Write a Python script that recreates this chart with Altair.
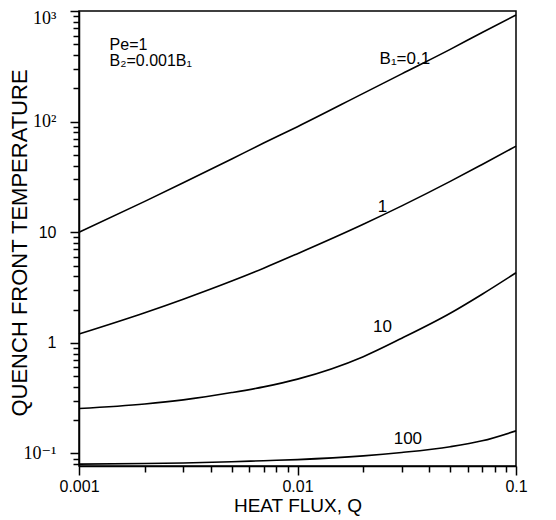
import altair as alt
import pandas as pd

# Heat flux values (x) at which curves were read
q = [0.001, 0.002, 0.003, 0.005, 0.007, 0.01, 0.02, 0.03, 0.05, 0.07, 0.1]
# Quench front temperature for each B1
t_b01 = [10, 19, 28, 46, 64, 90, 180, 270, 450, 640, 920]
t_b1 = [1.2, 1.87, 2.48, 3.62, 4.73, 6.4, 11.8, 17.3, 28.8, 41, 60]
t_b10 = [0.255, 0.28, 0.305, 0.355, 0.40, 0.47, 0.75, 1.1, 1.85, 2.75, 4.3]
t_b100 = [0.080, 0.081, 0.082, 0.084, 0.086, 0.088, 0.095, 0.102, 0.115, 0.13, 0.16]
series_names = ["0.1", "1", "10", "100"]

# curve labels
lab_text = ["B\u2081=0.1", "1", "10", "100"]
lab_q = [0.031, 0.0245, 0.0245, 0.032]
lab_t = [370, 17, 1.4, 0.135]

note_text = ["Pe=1", "B\u2082=0.001B\u2081"]
note_q = [0.00138, 0.00138]
note_t = [490, 355]

x_ticks = [0.001, 0.002, 0.003, 0.004, 0.005, 0.006, 0.007, 0.008, 0.009,
           0.01, 0.02, 0.03, 0.04, 0.05, 0.06, 0.07, 0.08, 0.09, 0.1]
y_ticks = [0.08, 0.09, 0.1, 0.2, 0.3, 0.4, 0.5, 0.6, 0.7, 0.8, 0.9,
           1, 2, 3, 4, 5, 6, 7, 8, 9, 10, 20, 30, 40, 50, 60, 70, 80, 90,
           100, 200, 300, 400, 500, 600, 700, 800, 900, 1000]

rows = []
for name, vals in zip(series_names, [t_b01, t_b1, t_b10, t_b100]):
    for qq, tt in zip(q, vals):
        rows.append({"B1": name, "Q": qq, "T": tt})
df = pd.DataFrame(rows)
df_lab = pd.DataFrame({"Q": lab_q, "T": lab_t, "text": lab_text})
df_note = pd.DataFrame({"Q": note_q, "T": note_t, "text": note_text})

SANS = "Liberation Sans, Arial, DejaVu Sans"
SERIF = "Liberation Serif, DejaVu Serif"

W, H = 437, 455

xscale = alt.Scale(type="log", domain=[0.001, 0.1], nice=False)
yscale = alt.Scale(type="log", domain=[0.077, 1000], nice=False)

xaxis = alt.Axis(
    values=x_ticks,
    labelExpr="datum.value==0.001?'0.001':datum.value==0.01?'0.01':datum.value==0.1?'0.1':''",
    tickSize={"condition": {"test": "indexof([0.001,0.01,0.1], datum.value) >= 0", "value": 9}, "value": 6},
    title="HEAT FLUX,  Q",
    titleFontSize=19, titleFontWeight="normal", titleFont=SANS,
    titleX=W / 2, titleY=39, titleBaseline="middle", titleAlign="center",
    labelFontSize=16, labelFont=SANS, labelPadding=3, labelOverlap=False, labelBound=False,
    labelFlush=False, grid=False,
)
SUP = "datum.value==1000||datum.value==100||datum.value==0.1"
yaxis = alt.Axis(
    values=y_ticks,
    labelExpr="datum.value==1000?'10\u00b3':datum.value==100?'10\u00b2':datum.value==10?'10':datum.value==1?'1':datum.value==0.1?'10\u207b\u00b9':''",
    labelFont={"condition": {"test": SUP, "value": SERIF}, "value": SANS},
    labelFontSize={"condition": {"test": SUP, "value": 18}, "value": 16},
    labelOffset={"condition": {"test": "datum.value==1000", "value": 7},
                 "value": 0},
    tickSize={"condition": {"test": "indexof([0.1,1,10,100,1000], datum.value) >= 0", "value": 9}, "value": 6},
    title="QUENCH  FRONT  TEMPERATURE",
    titleFontSize=22, titleFontWeight="normal", titleFont=SANS,
    titleX=-60, titleY=H / 2 + 4, titleBaseline="middle", titleAlign="center", titleAngle=270,
    labelPadding=14, labelOverlap=False, labelBound=False, labelFlush=False,
    grid=False,
)

lines = alt.Chart(df).mark_line(color="black", strokeWidth=1.6, interpolate="monotone").encode(
    x=alt.X("Q:Q", scale=xscale, axis=xaxis),
    y=alt.Y("T:Q", scale=yscale, axis=yaxis),
    detail="B1:N",
)

labels = alt.Chart(df_lab).mark_text(font=SANS, fontSize=17, align="center", baseline="middle", color="black").encode(
    x=alt.X("Q:Q", scale=xscale), y=alt.Y("T:Q", scale=yscale), text="text:N"
)
notes = alt.Chart(df_note).mark_text(font=SANS, fontSize=16, align="left", baseline="middle", color="black").encode(
    x=alt.X("Q:Q", scale=xscale), y=alt.Y("T:Q", scale=yscale), text="text:N"
)

chart = alt.layer(lines, labels, notes).properties(
    width=W, height=H,
    padding={"left": 71, "top": 3, "right": 32, "bottom": 52},
    autosize=alt.AutoSizeParams(type="none"),
).configure_view(stroke="black", strokeWidth=1.5).configure_axis(
    domainColor="black", domainWidth=1.5, tickColor="black", tickWidth=1.5,
    labelColor="black", titleColor="black",
)

chart.save("out.html", embed_options={"renderer": "svg", "actions": False})
